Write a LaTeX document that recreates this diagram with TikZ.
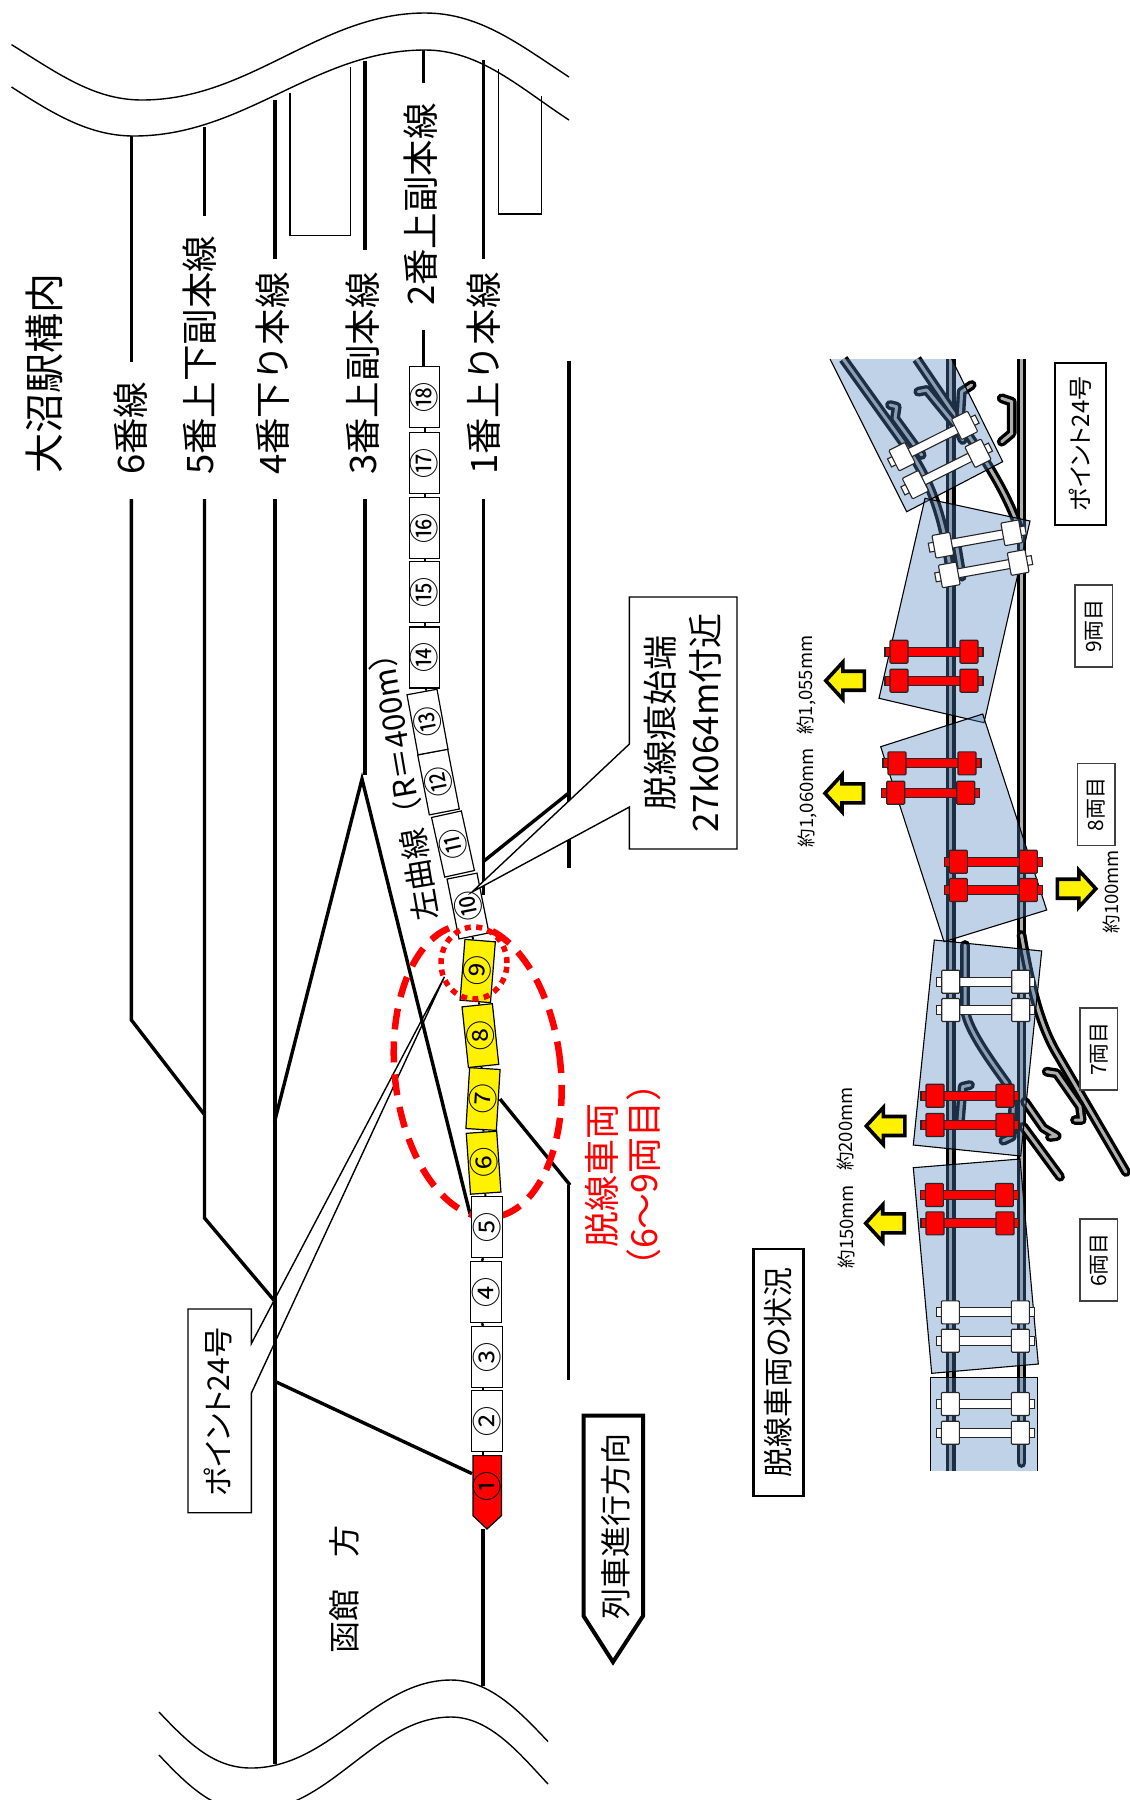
\documentclass[tikz,border=0pt]{standalone}
\usepackage{fontspec}
\setmainfont{Noto Sans CJK JP}
\newfontfamily\jpprop[RawFeature=+palt]{Noto Sans CJK JP}
\usetikzlibrary{arrows.meta,calc,positioning,shapes.geometric}
\definecolor{railgrey}{RGB}{175,175,175}
\definecolor{carblue}{RGB}{79,129,189}
\newcommand{\fsz}[1]{\fontsize{#1}{#1}\selectfont}
\tikzset{
  track/.style={line width=3.4pt, color=black},
  thinline/.style={line width=1.4pt, color=black},
  carbox/.style={draw, line width=1.2pt, rectangle, inner sep=0pt, minimum width=61pt, minimum height=30.5pt, font=\fsz{30}},
  linelabel/.style={rotate=90, anchor=west, inner sep=0pt, font=\fsz{36.5}},
  rail/.style={line width=3.4pt, draw=black, double=railgrey, double distance=3pt, line join=round},
  carshape/.style={fill=carblue, fill opacity=0.36, draw=none},
  carline/.style={line width=1.1pt, color=black},
  numbox/.style={draw=black!75, line width=1.4pt, rotate=90, fill=white, minimum width=82pt, minimum height=37.5pt, inner sep=0pt, font=\fsz{21}},
  sizelabel/.style={rotate=90, inner sep=0pt, font=\fsz{18.5}}
}
% one axle with its two wheels
\newcommand{\wheelset}[4]{
  \begin{scope}[shift={(#1,#2)}, rotate=#3]
    \draw[line width=1.1pt, draw=black!85, fill=#4] (-49,-4.5) rectangle (49,4.5);
    \draw[line width=1.1pt, draw=black!85, fill=#4, rounded corners=1pt] (-44,-11.5) rectangle (-26,11.5);
    \draw[line width=1.1pt, draw=black!85, fill=#4, rounded corners=1pt] (26,-11.5) rectangle (44,11.5);
  \end{scope}
}
% yellow block arrow, pointing left at angle 0
\newcommand{\blockarrow}[3]{
  \begin{scope}[shift={(#1,#2)}, rotate=#3]
    \draw[line width=3.6pt, fill=yellow, miter limit=4] (-18,0) -- (-1,-18.5) -- (-1,-9.5) -- (20.5,-9.5) -- (20.5,9.5) -- (-1,9.5) -- (-1,18.5) -- cycle;
  \end{scope}
}
\begin{document}
\begin{tikzpicture}[x=1pt, y=-1pt]
  \useasboundingbox (0,0) rectangle (1130,1800);

  % Break lines, top
  \draw[thinline] (11.5,44.6) .. controls (60,75) and (95,100) .. (142,100) .. controls (250,100) and (320,13) .. (425,13) .. controls (480,13) and (520,45) .. (569,77);
  \draw[thinline] (11.5,87) .. controls (55,115) and (90,136) .. (134,136) .. controls (245,136) and (315,50) .. (425,50) .. controls (480,50) and (520,88) .. (569,120);
  % Break lines, bottom
  \draw[thinline] (159,1712) .. controls (190,1745) and (215,1768) .. (251,1768) .. controls (330,1768) and (375,1680) .. (451,1680) .. controls (490,1680) and (520,1712) .. (548,1741.5);
  \draw[thinline] (159,1755) .. controls (190,1788) and (215,1811) .. (251,1811) .. controls (330,1811) and (375,1717) .. (451,1717) .. controls (490,1717) and (520,1754) .. (548,1784);

  % Platforms
  \draw[thinline] (290,93) -- (290,235.7) -- (350.6,235.7) -- (350.6,67);
  \draw[thinline] (498.5,69) -- (498.5,214) -- (541.4,214) -- (541.4,96);

  % Callout for the point, under the tracks
  \draw[thinline, fill=white] (188,1309) -- (251.4,1309) -- (251.4,1343.5) -- (444.5,976.7) -- (251.4,1393) -- (251.4,1512.7) -- (188,1512.7) -- cycle;

  % Tracks
  \draw[track] (131.4,136) -- (131.4,361.6);
  \draw[track] (131.4,499) -- (131.4,1020) -- (204,1114);
  \draw[track] (204.5,127) -- (204.5,215.6);
  \draw[track] (204.5,499) -- (204.5,1218) -- (274.6,1301);
  \draw[track] (275,100) -- (275,259);
  \draw[track] (275,499) -- (275,1764);
  \draw[track] (365,61) -- (365,250);
  \draw[track] (365,499) -- (365,775);
  \draw[track] (274.5,1122) -- (362,779) -- (470,1214);
  \draw[track] (423.5,50) -- (423.5,82.6);
  \draw[track] (423.5,329.5) -- (423.5,367);
  \draw[track] (483.5,60) -- (483.5,259);
  \draw[track] (483.5,499) -- (483.5,895);
  \draw[track] (569,361) -- (569,868);
  \draw[track] (484,861) -- (568,793.6);
  \draw[track] (500,1099) -- (570,1185);
  \draw[track] (568.6,1185) -- (568.6,1380);
  \draw[track] (276.4,1382) -- (472,1473.6);
  \draw[track] (483,1529) -- (483,1686);

  % Derailed cars, ring
  \node[draw=red, line width=6.5pt, dash pattern=on 21pt off 12pt, ellipse, rotate=6, minimum width=166pt, minimum height=294pt, inner sep=0pt] (derailring) at (477.7,1071) {};

  % Train
  \draw[line width=1.2pt, fill=red] (473,1455.6) -- (501.4,1455.6) -- (501.4,1515.7) -- (487,1529) -- (473,1515.7) -- cycle;
  \node[carbox, draw=none] (car1) at (487,1486) [rotate=90] {①};
  \foreach \n/\x/\y/\a/\lab in {2/487/1421/0/②, 3/487/1357/0/③, 4/486/1292/0/④, 5/487/1227/0/⑤,
      10/468/906/11.3/⑩, 11/453/844/12.4/⑪, 12/438.5/782/11/⑫, 13/427.5/722/10.4/⑬,
      14/424.5/657.5/0/⑭, 15/424.5/592/0/⑮, 16/424.5/528/0/⑯, 17/424.5/463/0/⑰, 18/424.5/397/0/⑱}
    \node[carbox, fill=white, rotate=90+\a] (car\n) at (\x,\y) {\lab};
  \foreach \n/\x/\y/\a/\lab in {6/483.6/1162.7/4/⑥, 7/483/1099/-3.5/⑦, 8/480.4/1035.6/6/⑧, 9/477.7/971/-4.6/⑨}
    \node[carbox, fill=yellow, rotate=90+\a] (car\n) at (\x,\y) {\lab};
  % Couplers
  \foreach \up/\dn in {18/17,17/16,16/15,15/14,14/13,9/8,8/7,7/6,6/5,10/9}
    \draw[line width=2pt] (car\up) -- (car\dn);
  \foreach \up/\dn in {5/4,4/3,3/2,2/1}
    \draw[line width=2.4pt] ([xshift=-4pt]car\up.west) -- ([xshift=-4pt]car\dn.east);

  % Start of the derailment marks
  \draw[thinline, fill=white] (629.4,597) -- (737,597) -- (737,849) -- (629.4,849) -- (629.4,807) -- (472,892) -- (629.4,744) -- cycle;
  \node[draw=red, line width=5.5pt, dash pattern=on 6pt off 5.5pt, ellipse, minimum width=66pt, minimum height=72pt, inner sep=0pt] (pointring) at (474,963) {};

  % Labels, left drawing
  \node[rotate=90, inner sep=0pt, font=\fsz{40}] (stationname) at (44,373.5) {大沼駅構内};
  \node[linelabel] (line6) at (131,475) {6番線};
  \node[linelabel] (line5) at (200,475) {5番上下副本線};
  \node[linelabel] (line4) at (273,475) {4番下り本線};
  \node[linelabel] (line3) at (363,475) {3番上副本線};
  \node[linelabel] (line2) at (421,306) {2番上副本線};
  \node[linelabel] (line1) at (483.5,475) {1番上り本線};
  \node[rotate=99.7, inner sep=0pt, font=\fsz{31}] (curvelabel) at (403,780) {左曲線（R＝400m）};
  \node[rotate=90, align=center, inner sep=0pt, font=\fontsize{35}{45}\selectfont] (marklabel) at (682.5,723) {脱線痕始端\\27k064m付近};
  \node[rotate=90, align=center, inner sep=0pt, text=red, font=\fontsize{36}{42}\selectfont] (derailtext) at (623,1175) {脱線車両\\（6～9両目）};
  \node[rotate=90, inner sep=0pt, font=\jpprop\fsz{30}] (pointtext) at (217.5,1412) {ポイント24号};
  \node[rotate=90, inner sep=0pt, font=\fsz{32}] (hakodate) at (344,1589) {函館　方};

  % Direction of travel
  \draw[line width=4pt] (583.6,1415.5) -- (643,1415.5) -- (643,1616) -- (613,1662) -- (583.6,1616) -- cycle;
  \node[rotate=90, inner sep=0pt, font=\fsz{31}] (traveldir) at (615.7,1526) {列車進行方向};

  % Rails, right drawing
  \draw[rail] (950.7,359) -- (950.7,1470.5);
  \draw[rail, line cap=round] (1021.5,1463) -- (1021.5,400);
  \draw[rail] (1021.5,400) -- (1021.5,359);
  \draw[rail] (843.3,359) -- (905,445) .. controls (930,478) and (945,520) .. (950.7,575);
  \draw[rail] (916.7,359) -- (975,445) .. controls (995,475) and (1012,505) .. (1021,535);
  \draw[rail, line cap=round] (890,405) -- (896.7,406.7) -- (895,418.3) -- (921.7,455);
  \draw[rail, line cap=round] (918.3,391.7) -- (926.7,390) -- (956.7,426.7) -- (962.7,440);
  \draw[rail, line cap=round] (971.7,385) -- (961.7,391.7) -- (960,420);
  \draw[rail, line cap=round] (1001.7,398.3) -- (1011.7,401.7) -- (1011.7,433.3) -- (1001.7,441.7);
  \draw[rail, line cap=round] (956.7,546.7) -- (961.7,576.7);
  \draw[rail, line cap=round] (1021.5,935) .. controls (1030,985) and (1040,1025) .. (1056.7,1053.3) -- (1126,1172);
  \draw[rail, line cap=round] (1046.7,1071.7) -- (1056.7,1073.3) -- (1080,1106.7) -- (1081.7,1120) -- (1075,1120);
  \draw[rail, line cap=round] (1025,1101.7) -- (1043.3,1128) -- (1056.7,1136) -- (1050,1137);
  \draw[rail, line cap=round] (1023.3,1126.7) -- (1060,1176.7);
  \draw[rail, line cap=round] (965,945) -- (965,1010) .. controls (968,1030) and (990,1060) .. (1006.7,1083.3) -- (1013.3,1106.7) -- (1011.7,1136.7) -- (1003.3,1140.7);
  \draw[rail, line cap=round] (970,1085) -- (962.7,1086.7) -- (960,1120);

  % Car bodies
  \fill[carshape] (830,359) -- (951.7,359) -- (1002.7,461.7) -- (906.7,511.7) -- cycle;
  \draw[carline] (951.7,359) -- (1002.7,461.7) -- (906.7,511.7) -- (830,359);
  \foreach \pa/\pb/\pc/\pd in {{(925,498.3)}/{(1030,521)}/{(984,722.7)}/{(879,698.3)},
      {(982.7,714)}/{(1046.7,910)}/{(944,941.7)}/{(880.7,746.7)},
      {(934.3,940)}/{(1041.7,951)}/{(1020.7,1156)}/{(913.3,1145)},
      {(913.3,1167.7)}/{(1020,1159)}/{(1038.3,1364)}/{(931.7,1373.3)}}
  {
    \fill[carshape] \pa -- \pb -- \pc -- \pd -- cycle;
    \draw[carline] \pa -- \pb -- \pc -- \pd -- cycle;
  }
  \fill[carshape] (930.3,1377.7) rectangle (1037.7,1470.7);
  \draw[carline] (930.3,1470.7) -- (930.3,1377.7) -- (1037.7,1377.7) -- (1037.7,1470.7);

  % Wheels
  \wheelset{933.3}{441}{26.6}{white}
  \wheelset{946.7}{469}{26.6}{white}
  \wheelset{977.3}{539}{10.2}{white}
  \wheelset{983.7}{568.7}{10.2}{white}
  \wheelset{934}{651.7}{0}{red}
  \wheelset{934}{680.7}{0}{red}
  \wheelset{932}{763.3}{0}{red}
  \wheelset{930.7}{792.7}{0}{red}
  \wheelset{993.3}{861.7}{0}{red}
  \wheelset{993.3}{890}{0}{red}
  \wheelset{985.7}{981.7}{0}{white}
  \wheelset{985.7}{1010}{0}{white}
  \wheelset{970}{1095.7}{0}{red}
  \wheelset{970}{1125}{0}{red}
  \wheelset{969.3}{1195}{0}{red}
  \wheelset{970}{1223.3}{0}{red}
  \wheelset{985.3}{1312.3}{0}{white}
  \wheelset{985.3}{1340.7}{0}{white}
  \wheelset{985.3}{1404}{0}{white}
  \wheelset{985.3}{1432.7}{0}{white}

  % Arrows and amounts
  \blockarrow{843.8}{680.7}{0}
  \blockarrow{843}{793.3}{0}
  \blockarrow{1077.8}{888.7}{180}
  \blockarrow{884.3}{1126}{0}
  \blockarrow{883.7}{1223.3}{0}
  \node[sizelabel] (size9) at (806,685) {約1,055mm};
  \node[sizelabel] (size8) at (807,797.5) {約1,060mm};
  \node[sizelabel] (size8b) at (1111.7,891.7) {約100mm};
  \node[sizelabel] (size7) at (845.7,1129) {約200mm};
  \node[sizelabel] (size6) at (846,1226.7) {約150mm};

  % Boxes, right drawing
  \node[draw, line width=1.8pt, rotate=90, minimum width=162.3pt, minimum height=50.7pt, inner sep=0pt, font=\jpprop\fsz{24}] (pointbox) at (1080.7,443.8) {ポイント24号};
  \node[numbox] (box9) at (1093.7,626) {9両目};
  \node[numbox] (box8) at (1096.3,804.5) {8両目};
  \node[numbox] (box7) at (1098.8,1049) {7両目};
  \node[numbox] (box6) at (1098.8,1260) {6両目};
  \node[draw, line width=2.4pt, rotate=90, minimum width=247pt, minimum height=50pt, inner sep=0pt, font=\fsz{30}] (statusbox) at (778.3,1372.5) {脱線車両の状況};
\end{tikzpicture}
\end{document}
